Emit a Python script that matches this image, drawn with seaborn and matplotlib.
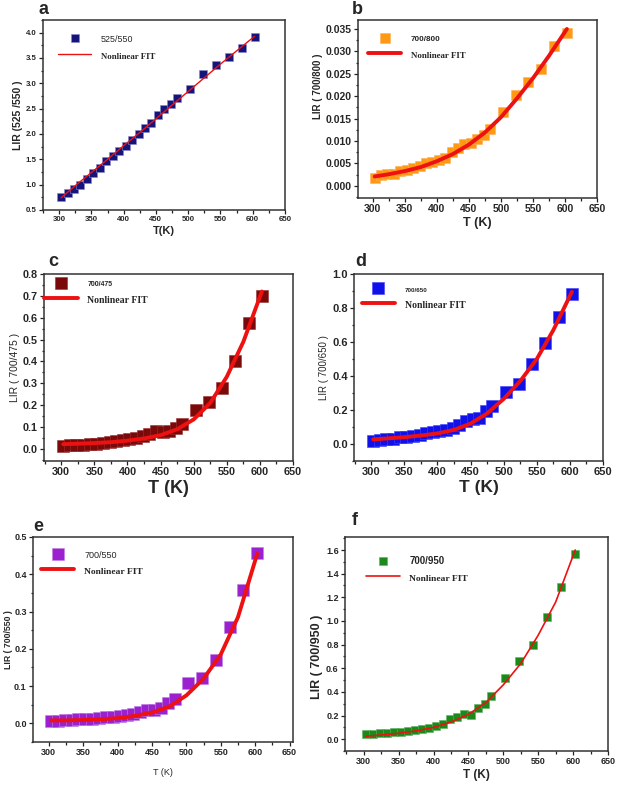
import numpy as np
import pandas as pd
import matplotlib
matplotlib.use("Agg")
import matplotlib.pyplot as plt
import seaborn as sns
from matplotlib.ticker import AutoMinorLocator, MultipleLocator

sns.set_style("ticks")
plt.rcParams['font.family'] = ['Liberation Sans', 'DejaVu Sans']

# ---------------- data ----------------
T = [303, 313, 323, 333, 343, 353, 363, 373, 383, 393, 403, 413, 423,
     433, 443, 453, 463, 473, 483, 503, 523, 543, 563, 583, 603]
T_fit = [303, 325, 350, 375, 400, 425, 450, 475, 500, 525, 550, 575, 603]

lir_525_550 = [0.76, 0.84, 0.92, 1.00, 1.11, 1.23, 1.33, 1.46, 1.57, 1.67, 1.76, 1.88, 2.00,
               2.12, 2.21, 2.37, 2.50, 2.59, 2.71, 2.88, 3.18, 3.37, 3.51, 3.70, 3.92]
fit_525_550 = [0.74, 0.98, 1.24, 1.50, 1.77, 2.03, 2.30, 2.57, 2.84, 3.11, 3.38, 3.64, 3.93]

lir_700_800 = [0.0018, 0.0024, 0.0026, 0.0027, 0.0033, 0.0036, 0.0040, 0.0045, 0.0050, 0.0053,
               0.0058, 0.0062, 0.0075, 0.0084, 0.0093, 0.0096, 0.0105, 0.0113, 0.0128, 0.0165,
               0.0203, 0.0231, 0.0261, 0.0313, 0.0341]
fit_700_800 = [0.0021, 0.0026, 0.0033, 0.0042, 0.0055, 0.0071, 0.0092, 0.0119, 0.0153, 0.0195,
               0.0240, 0.0290, 0.0350]

lir_700_475 = [0.015, 0.016, 0.018, 0.020, 0.022, 0.025, 0.028, 0.031, 0.035, 0.040, 0.045,
               0.050, 0.058, 0.070, 0.080, 0.078, 0.082, 0.095, 0.112, 0.180, 0.213, 0.280,
               0.400, 0.578, 0.700]
fit_700_475 = [0.022, 0.024, 0.027, 0.031, 0.038, 0.048, 0.063, 0.090, 0.135, 0.210, 0.330,
               0.490, 0.720]

lir_700_650 = [0.015, 0.022, 0.028, 0.032, 0.040, 0.042, 0.048, 0.055, 0.062, 0.068, 0.075,
               0.085, 0.095, 0.110, 0.135, 0.145, 0.150, 0.195, 0.225, 0.305, 0.355, 0.470,
               0.595, 0.750, 0.885]
fit_700_650 = [0.027, 0.033, 0.040, 0.050, 0.062, 0.083, 0.120, 0.180, 0.265, 0.370, 0.500,
               0.670, 0.895]

lir_700_550 = [0.006, 0.007, 0.008, 0.009, 0.011, 0.012, 0.013, 0.015, 0.017, 0.018, 0.020,
               0.022, 0.025, 0.030, 0.036, 0.036, 0.040, 0.054, 0.066, 0.108, 0.123, 0.170,
               0.258, 0.357, 0.457]
fit_700_550 = [0.008, 0.008, 0.009, 0.011, 0.014, 0.020, 0.029, 0.045, 0.075, 0.120, 0.185,
               0.285, 0.455]

lir_700_950 = [0.048, 0.048, 0.056, 0.050, 0.060, 0.062, 0.068, 0.076, 0.090, 0.098, 0.108,
               0.130, 0.170, 0.190, 0.217, 0.203, 0.260, 0.300, 0.367, 0.514, 0.660, 0.797,
               1.030, 1.290, 1.566]
fit_700_950 = [0.025, 0.035, 0.050, 0.070, 0.100, 0.145, 0.210, 0.310, 0.460, 0.640, 0.880,
               1.160, 1.600]

fig = plt.figure(figsize=(6.2, 7.87), dpi=100)

SERIF = ['Liberation Serif', 'DejaVu Serif']


def panel(rect, letter, letter_xy, y, yfit, color, label, ylabel, xlabel,
          ylim, ymajor, xlim, ms, lw, legpos,
          tick_fs, tick_bold, yl_fs, yl_bold, xl_fs, xl_bold,
          lab_fs, lab_bold, fit_fs, edge, xl_pad=2, yl_y=0.5, yl_pad=2):
    ax = fig.add_axes(rect)
    d = pd.DataFrame({"T": T, "LIR": y})
    f = pd.DataFrame({"T": T_fit, "LIR": yfit})
    sns.scatterplot(data=d, x="T", y="LIR", marker="s", s=ms, color=color,
                    edgecolor=edge, linewidth=0.4, ax=ax, label=label, zorder=2)
    sns.lineplot(data=f, x="T", y="LIR", color="#ee1111", lw=lw, ax=ax,
                 label="Nonlinear FIT", zorder=3, sort=True)
    ax.set_xlim(*xlim)
    ax.set_ylim(*ylim)
    ax.xaxis.set_major_locator(MultipleLocator(50))
    ax.yaxis.set_major_locator(MultipleLocator(ymajor))
    ax.xaxis.set_minor_locator(AutoMinorLocator(2))
    ax.yaxis.set_minor_locator(AutoMinorLocator(2))
    ax.tick_params(which='both', direction='out', top=False, right=False,
                   labelsize=tick_fs, width=0.9, color='#222222', pad=1.5)
    ax.tick_params(which='major', length=3)
    ax.tick_params(which='minor', length=1.8)
    for lbl in ax.get_xticklabels() + ax.get_yticklabels():
        lbl.set_fontweight('bold' if tick_bold else 'normal')
    for sp in ax.spines.values():
        sp.set_linewidth(1.1)
        sp.set_color('#333333')
    ax.set_ylabel(ylabel, fontsize=yl_fs, fontweight='bold' if yl_bold else 'normal',
                  labelpad=yl_pad, y=yl_y, ha='center')
    ax.set_xlabel(xlabel, fontsize=xl_fs, fontweight='bold' if xl_bold else 'normal',
                  labelpad=xl_pad)
    leg = ax.legend(loc='upper left', bbox_to_anchor=legpos, frameon=False,
                    handlelength=2.4, handletextpad=0.7, labelspacing=0.35,
                    borderaxespad=0, borderpad=0.2)
    leg.legend_handles[0].set_sizes([ms])
    t1, t2 = leg.get_texts()
    t1.set_fontsize(lab_fs)
    t1.set_fontweight('bold' if lab_bold else 'normal')
    t2.set_fontsize(fit_fs)
    t2.set_fontweight('bold')
    t2.set_fontfamily(SERIF)
    fig.text(letter_xy[0], letter_xy[1], letter, fontsize=13, fontweight='bold',
             ha='left', va='top')
    return ax


W, H = 620.0, 787.0


def R(l, t, r, b):
    return [l / W, 1 - b / H, (r - l) / W, (b - t) / H]


panel(R(43, 20, 285, 210), 'a', (39 / W, 1 - 1 / H), lir_525_550, fit_525_550, '#14147a',
      '525/550', 'LIR (525 /550 )', 'T(K)', (0.5, 4.25), 0.5, (275, 650), 28, 1.0,
      (0.05, 0.95), 5.7, True, 7.5, True, 8, True, 6.4, False, 6.3, '#8888cc')

panel(R(358, 20, 597, 198), 'b', (352 / W, 1 - 1 / H), lir_700_800, fit_700_800, '#ff9914',
      '700/800', 'LIR ( 700/800 )', 'T (K)', (-0.0027, 0.037), 0.005, (277, 650), 60, 2.8,
      (0.03, 0.95), 7.5, True, 7.0, True, 9, True, 5.9, True, 6.4, '#ffb050', yl_y=0.63)

panel(R(44, 274, 293, 461), 'c', (48 / W, 1 - 253 / H), lir_700_475, fit_700_475, '#7a0a0a',
      '700/475', 'LIR ( 700/475 )', 'T (K)', (-0.055, 0.8), 0.1, (274, 650), 65, 2.8,
      (-0.01, 1.0), 7.8, True, 7.5, False, 13, True, 5.0, True, 7.0, '#9a3030')

panel(R(354, 274, 603, 461), 'd', (355 / W, 1 - 253 / H), lir_700_650, fit_700_650, '#1010e8',
      '700/650', 'LIR ( 700/650 )', 'T (K)', (-0.1, 1.0), 0.2, (274, 650), 70, 2.8,
      (0.02, 0.97), 8, True, 7.0, False, 12.5, True, 4.5, True, 7.0, '#4040ff')

panel(R(33, 537, 293, 742), 'e', (33 / W, 1 - 518 / H), lir_700_550, fit_700_550, '#9a20d0',
      '700/550', 'LIR ( 700/550 )', 'T (K)', (-0.05, 0.5), 0.1, (277, 655), 70, 2.8,
      (0.02, 0.96), 6.5, True, 6.3, True, 6.5, False, 6.5, False, 6.8, '#c080e0',
      xl_pad=8, yl_pad=1)

panel(R(345, 537, 608, 751), 'f', (352 / W, 1 - 512 / H), lir_700_950, fit_700_950, '#1a8a1a',
      '700/950', 'LIR ( 700/950 )', 'T (K)', (-0.1, 1.71), 0.2, (273, 650), 38, 1.2,
      (0.07, 0.93), 6.5, True, 9, True, 8.5, True, 7.0, True, 6.8, '#60b060', yl_y=0.44)

fig.savefig("out.png", dpi=100)
